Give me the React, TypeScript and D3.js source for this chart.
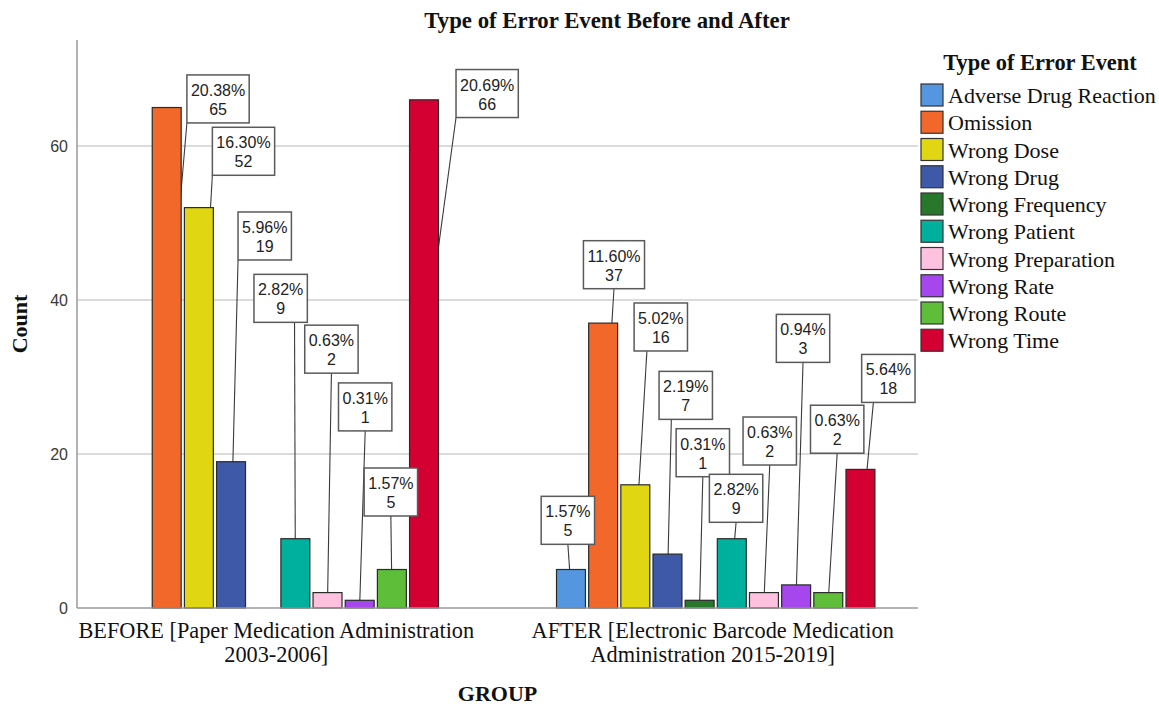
import React, { useEffect, useRef } from "react";
import * as d3 from "d3";

// ---------- data ----------
const groupLines: string[][] = [
  ["BEFORE [Paper Medication Administration", "2003-2006]"],
  ["AFTER [Electronic Barcode Medication", "Administration 2015-2019]"],
];
const groupKeys = ["BEFORE", "AFTER"];
const categories = [
  "Adverse Drug Reaction",
  "Omission",
  "Wrong Dose",
  "Wrong Drug",
  "Wrong Frequency",
  "Wrong Patient",
  "Wrong Preparation",
  "Wrong Rate",
  "Wrong Route",
  "Wrong Time",
];
const beforeCounts = [0, 65, 52, 19, 0, 9, 2, 1, 5, 66];
const afterCounts = [5, 37, 16, 7, 1, 9, 2, 3, 2, 18];
const yTicks = [0, 20, 40, 60];
const colors = [
  "#5596e1",
  "#f2682a",
  "#e1d612",
  "#3e59a8",
  "#28782b",
  "#00b09e",
  "#fec2e0",
  "#a647ee",
  "#5ebe3a",
  "#d50032",
];

// ---------- label callout layout: [dx of box left from bar centre (px), box bottom (count units), attach fraction] ----------
const labelLayoutBefore: (number[] | null)[] = [
  null,
  [20.2, 63.0, 0],
  [13.5, 56.2, 0],
  [7, 45.2, 0],
  null,
  [-41.4, 37.1, 0.76],
  [-22.8, 30.5, 0.5],
  [-21.2, 23.0, 0.5],
  [-27.7, 11.95, 0.5],
  [32, 63.7, 0],
];
const labelLayoutAfter: (number[] | null)[] = [
  [-29.8, 8.27, 0.5],
  [-19.7, 41.47, 0.5],
  [-1.2, 33.38, 0.24],
  [-8.4, 24.5, 0.23],
  [-23.5, 17.05, 0.5],
  [-22.4, 11.13, 0.5],
  [-20.9, 18.57, 0.5],
  [-19.8, 31.9, 0.5],
  [-17.8, 20.1, 0.5],
  [1.2, 26.7, 0.22],
];

const W = 1159;
const H = 708;
const SERIF = "'Liberation Serif', 'Times New Roman', serif";
const SANS = "'Liberation Sans', Arial, sans-serif";

export default function App() {
  const ref = useRef<SVGSVGElement | null>(null);

  useEffect(() => {
    const svg = d3.select(ref.current);
    svg.selectAll("*").remove();

    const plot = { left: 77, right: 918, top: 40, bottom: 608 };
    const total = d3.sum(beforeCounts) + d3.sum(afterCounts);
    const pct = d3.format(".2%");

    const x0 = d3
      .scaleBand<string>()
      .domain(groupKeys)
      .range([plot.left, plot.right])
      .paddingInner(0.263)
      .paddingOuter(0.095);
    const x1 = d3
      .scaleBand<string>()
      .domain(categories)
      .range([0, x0.bandwidth()])
      .paddingInner(0.1)
      .paddingOuter(0.05);
    const y = d3.scaleLinear().domain([0, 73.77]).range([plot.bottom, plot.top]);

    // gridlines
    svg
      .append("g")
      .selectAll("line")
      .data(yTicks.filter((t) => t > 0))
      .join("line")
      .attr("x1", plot.left)
      .attr("x2", plot.right)
      .attr("y1", (d) => y(d))
      .attr("y2", (d) => y(d))
      .attr("stroke", "#cfcfcf")
      .attr("stroke-width", 1.5);

    // y axis line
    svg
      .append("line")
      .attr("x1", plot.left)
      .attr("x2", plot.left)
      .attr("y1", plot.top)
      .attr("y2", plot.bottom)
      .attr("stroke", "#9a9a9a")
      .attr("stroke-width", 1.5);

    // tick labels
    svg
      .append("g")
      .selectAll("text")
      .data(yTicks)
      .join("text")
      .attr("x", 68)
      .attr("y", (d) => y(d))
      .attr("dy", "0.38em")
      .attr("text-anchor", "end")
      .attr("font-family", SANS)
      .attr("font-size", 16)
      .attr("fill", "#3a3a3a")
      .text((d) => String(d));

    const series = [
      { key: "BEFORE", counts: beforeCounts, layout: labelLayoutBefore },
      { key: "AFTER", counts: afterCounts, layout: labelLayoutAfter },
    ];

    type Item = {
      cx: number;
      left: number;
      value: number;
      color: string;
      layout: number[] | null;
    };
    const items: Item[] = [];
    series.forEach((s) => {
      s.counts.forEach((v, i) => {
        const left = (x0(s.key) ?? 0) + (x1(categories[i]) ?? 0);
        items.push({
          cx: left + x1.bandwidth() / 2,
          left,
          value: v,
          color: colors[i],
          layout: v > 0 ? s.layout[i] : null,
        });
      });
    });

    // prepare label boxes (measure text)
    const labelG = svg.append("g");
    const boxH = 48;
    type Box = { x: number; y: number; w: number; attachX: number; item: Item; t1: string; t2: string };
    const boxes: Box[] = [];
    const measure = svg
      .append("text")
      .attr("font-family", SANS)
      .attr("font-size", 16)
      .attr("visibility", "hidden");
    items.forEach((it) => {
      if (!it.layout) return;
      const t1 = pct(it.value / total);
      const t2 = String(it.value);
      measure.text(t1);
      const w1 = (measure.node() as SVGTextElement).getComputedTextLength();
      const w = w1 + 8;
      const bx = it.cx + it.layout[0];
      const by = y(it.layout[1]) - boxH;
      boxes.push({ x: bx, y: by, w, attachX: bx + w * it.layout[2], item: it, t1, t2 });
    });
    measure.remove();

    // leader lines (behind bars)
    const leaderG = svg.append("g");
    leaderG
      .selectAll("line")
      .data(boxes)
      .join("line")
      .attr("x1", (b) => b.item.cx)
      .attr("y1", (b) => y(b.item.value / 2))
      .attr("x2", (b) => b.attachX)
      .attr("y2", (b) => b.y + boxH)
      .attr("stroke", "#3a3a3a")
      .attr("stroke-width", 1.1);

    // bars
    svg
      .append("g")
      .selectAll("rect")
      .data(items.filter((d) => d.value > 0))
      .join("rect")
      .attr("x", (d) => d.left)
      .attr("y", (d) => y(d.value))
      .attr("width", x1.bandwidth())
      .attr("height", (d) => y(0) - y(d.value))
      .attr("fill", (d) => d.color)
      .attr("stroke", "#2a2a2a")
      .attr("stroke-width", 1.2);

    // x axis line
    svg
      .append("line")
      .attr("x1", plot.left)
      .attr("x2", plot.right)
      .attr("y1", plot.bottom)
      .attr("y2", plot.bottom)
      .attr("stroke", "#9a9a9a")
      .attr("stroke-width", 1.5);

    // label boxes
    labelG.raise();
    const bg = labelG.selectAll("g").data(boxes).join("g");
    bg.append("rect")
      .attr("x", (b) => b.x)
      .attr("y", (b) => b.y)
      .attr("width", (b) => b.w)
      .attr("height", boxH)
      .attr("fill", "#ffffff")
      .attr("stroke", "#5a5a5a")
      .attr("stroke-width", 1.5);
    bg.append("text")
      .attr("x", (b) => b.x + b.w / 2)
      .attr("y", (b) => b.y + 21)
      .attr("text-anchor", "middle")
      .attr("font-family", SANS)
      .attr("font-size", 16)
      .attr("fill", "#222")
      .text((b) => b.t1);
    bg.append("text")
      .attr("x", (b) => b.x + b.w / 2)
      .attr("y", (b) => b.y + 40)
      .attr("text-anchor", "middle")
      .attr("font-family", SANS)
      .attr("font-size", 16)
      .attr("fill", "#222")
      .text((b) => b.t2);

    // x category labels
    const xl = svg.append("g");
    groupKeys.forEach((g, gi) => {
      const cx = (x0(g) ?? 0) + x0.bandwidth() / 2;
      groupLines[gi].forEach((line, li) => {
        xl.append("text")
          .attr("x", cx - 3)
          .attr("y", 638 + li * 24)
          .attr("text-anchor", "middle")
          .attr("font-family", SERIF)
          .attr("font-size", 22.3)
          .attr("fill", "#111")
          .text(line);
      });
    });

    // axis titles
    svg
      .append("text")
      .attr("x", (plot.left + plot.right) / 2)
      .attr("y", 701)
      .attr("text-anchor", "middle")
      .attr("font-family", SERIF)
      .attr("font-weight", "bold")
      .attr("font-size", 22)
      .attr("fill", "#111")
      .text("GROUP");
    svg
      .append("text")
      .attr("transform", `translate(27, ${(plot.top + plot.bottom) / 2}) rotate(-90)`)
      .attr("text-anchor", "middle")
      .attr("font-family", SERIF)
      .attr("font-weight", "bold")
      .attr("font-size", 22)
      .attr("fill", "#111")
      .text("Count");

    // chart title
    svg
      .append("text")
      .attr("x", 607)
      .attr("y", 28)
      .attr("text-anchor", "middle")
      .attr("font-family", SERIF)
      .attr("font-weight", "bold")
      .attr("font-size", 22.8)
      .attr("fill", "#111")
      .text("Type of Error Event Before and After");

    // legend
    const lg = svg.append("g");
    lg.append("text")
      .attr("x", 1040)
      .attr("y", 70)
      .attr("text-anchor", "middle")
      .attr("font-family", SERIF)
      .attr("font-weight", "bold")
      .attr("font-size", 22.4)
      .attr("fill", "#111")
      .text("Type of Error Event");
    const li = lg
      .selectAll("g.item")
      .data(categories)
      .join("g")
      .attr("class", "item")
      .attr("transform", (_d, i) => `translate(921, ${84 + i * 27.25})`);
    li.append("rect")
      .attr("width", 22)
      .attr("height", 22)
      .attr("fill", (_d, i) => colors[i])
      .attr("stroke", "#333")
      .attr("stroke-width", 1.2);
    li.append("text")
      .attr("x", 27)
      .attr("y", 19)
      .attr("font-family", SERIF)
      .attr("font-size", 22)
      .attr("fill", "#111")
      .text((d) => d);
  }, []);

  return (
    <svg
      ref={ref}
      width={W}
      height={H}
      style={{ position: "absolute", left: 0, top: 0, background: "#fff" }}
    />
  );
}
